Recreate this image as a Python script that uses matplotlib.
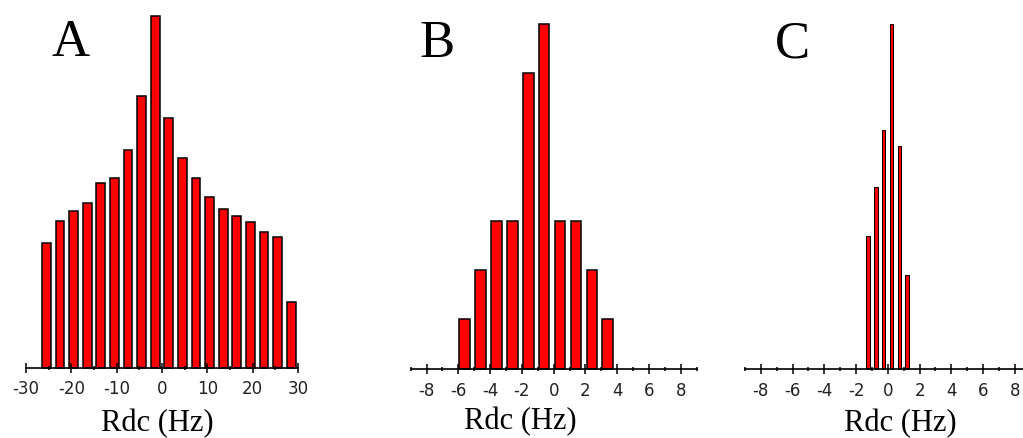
import numpy as np
import matplotlib
matplotlib.use('Agg')
import matplotlib.pyplot as plt
from matplotlib.ticker import MultipleLocator

plt.rcParams['axes.unicode_minus'] = False
plt.rcParams['font.family'] = 'DejaVu Sans'

# ----------------------------------------------
#                DATA
# ----------------------------------------------
# panel A: 3 Hz bins
a_centers = [-25.5, -22.5, -19.5, -16.5, -13.5, -10.5, -7.5, -4.5, -1.5,
             1.5, 4.5, 7.5, 10.5, 13.5, 16.5, 19.5, 22.5, 25.5, 28.5]
a_counts = [37.4, 44.2, 47.0, 49.4, 55.6, 56.9, 65.5, 81.7, 105.6,
            75.1, 63.1, 56.9, 51.2, 47.8, 45.5, 43.7, 40.8, 39.3, 19.8]

# panel B: 1 Hz bins
b_centers = [-5.6, -4.6, -3.6, -2.6, -1.6, -0.6, 0.4, 1.4, 2.4, 3.4]
b_counts = [1, 2, 3, 3, 6, 7, 3, 3, 2, 1]

# panel C: 0.5 Hz bins
c_centers = [-1.27, -0.77, -0.27, 0.23, 0.73, 1.23]
c_counts = [38.3, 52.5, 69.2, 100.0, 64.6, 27.2]

W, H = 1023, 439
fig = plt.figure(figsize=(W / 100, H / 100), dpi=100)


def px_axes(x0, x1, base, top):
    # axes box given in pixel coords (y measured from top)
    return fig.add_axes([x0 / W, (H - base) / H, (x1 - x0) / W, (base - top) / H])


def style(ax, xlim, major, minor, counts, pad):
    ax.set_xlim(*xlim)
    ax.set_ylim(0, max(counts))
    for s in ['top', 'right', 'left']:
        ax.spines[s].set_visible(False)
    ax.spines['bottom'].set_linewidth(1.2)
    ax.spines['bottom'].set_zorder(5)
    ax.set_yticks([])
    ax.xaxis.set_major_locator(MultipleLocator(major))
    ax.xaxis.set_minor_locator(MultipleLocator(minor))
    ax.tick_params(axis='x', which='major', direction='inout', length=6.5,
                   width=1.1, labelsize=12, pad=pad, labelcolor='#222222')
    ax.tick_params(axis='x', which='minor', direction='inout', length=3.5, width=1.1)
    ax.patch.set_alpha(0)


bar_kw = dict(color='#ff0000', edgecolor='black', clip_on=False)

# ----------------------------------------------
#                PANEL A
# ----------------------------------------------
axA = px_axes(26, 298, 369, 17)
axA.bar(a_centers, a_counts, width=1.95, linewidth=1.1, **bar_kw)
style(axA, (-30, 30), 10, 5, a_counts, 4.5)
fig.text(71 / W, 1 - 43 / H, 'A', family='Liberation Serif', fontsize=38,
         ha='center', va='center')
fig.text(157 / W, 1 - 424 / H, 'Rdc (Hz)', family='Liberation Serif',
         fontsize=22, ha='center', va='center')

# ----------------------------------------------
#                PANEL B
# ----------------------------------------------
axB = px_axes(410.7, 696.7, 369.5, 24.7)
axB.bar(b_centers, b_counts, width=0.66, linewidth=1.1, **bar_kw)
style(axB, (-9, 9), 2, 1, b_counts, 6)
fig.text(437 / W, 1 - 44 / H, 'B', family='Liberation Serif', fontsize=38,
         ha='center', va='center')
fig.text(520 / W, 1 - 422 / H, 'Rdc (Hz)', family='Liberation Serif',
         fontsize=22, ha='center', va='center')

# ----------------------------------------------
#                PANEL C
# ----------------------------------------------
axC = px_axes(745, 1030.7, 369.5, 24.7)
axC.bar(c_centers, c_counts, width=0.24, linewidth=0.75, **bar_kw)
style(axC, (-9, 9), 2, 1, c_counts, 6)
fig.text(792 / W, 1 - 45 / H, 'C', family='Liberation Serif', fontsize=38,
         ha='center', va='center')
fig.text(900 / W, 1 - 424 / H, 'Rdc (Hz)', family='Liberation Serif',
         fontsize=22, ha='center', va='center')

plt.savefig('out.png', dpi=100)
print("generated out.png")
